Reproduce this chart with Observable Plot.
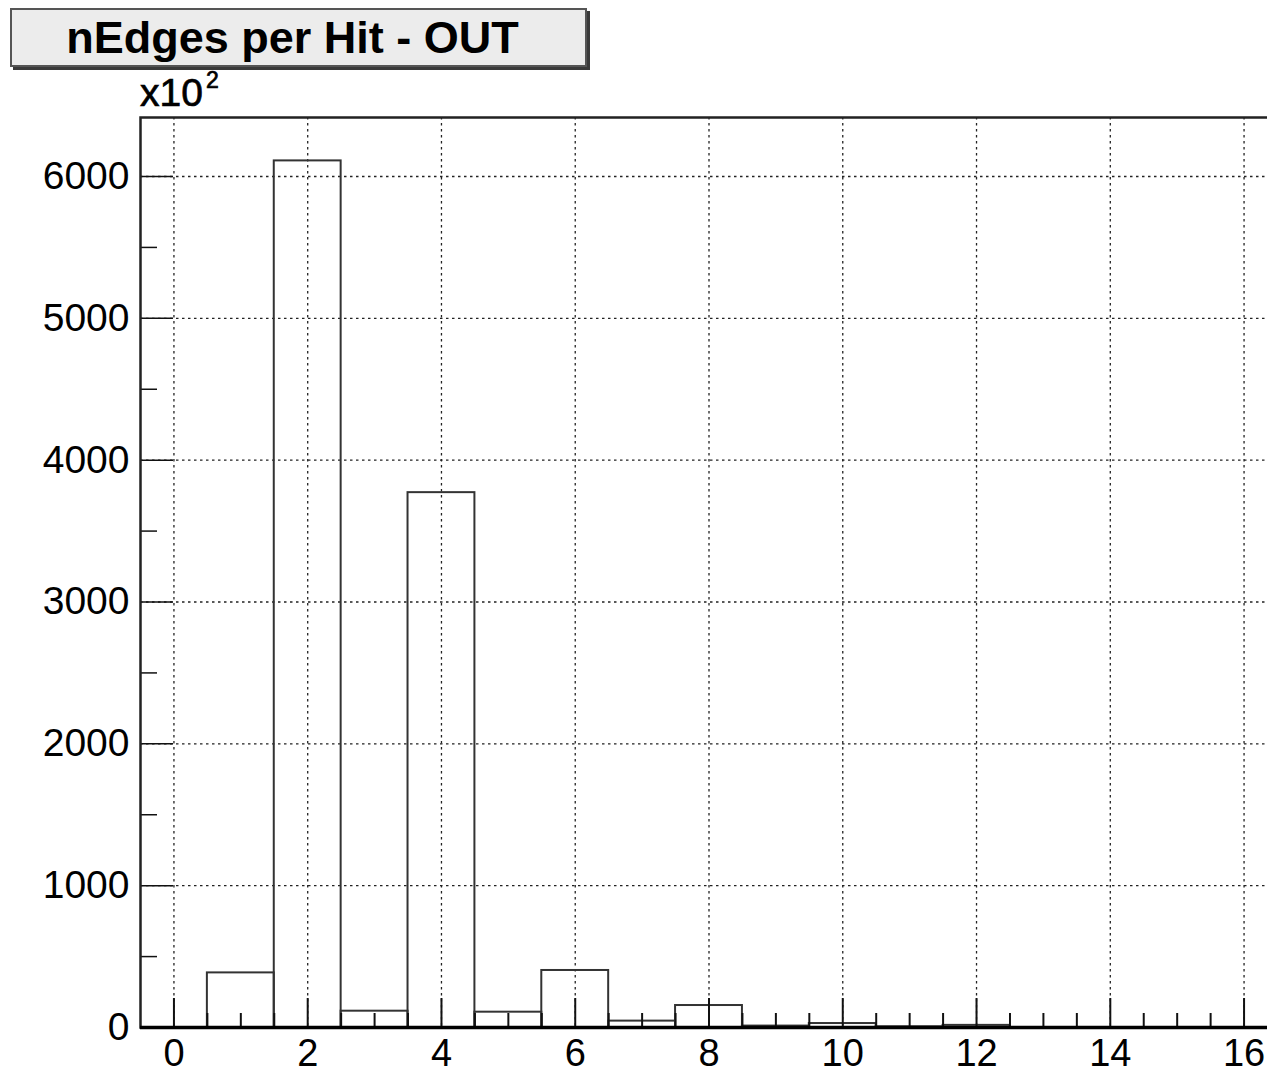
<!DOCTYPE html>
<html>
<head>
<meta charset="utf-8">
<script src="https://cdn.jsdelivr.net/npm/d3@7"></script>
<script src="https://cdn.jsdelivr.net/npm/@observablehq/plot@0.6"></script>
<style>
  html, body { margin: 0; padding: 0; background: white; overflow: hidden; }
  #wrap { position: relative; width: 1267px; height: 1073px; overflow: hidden; font-family: "Liberation Sans", Arial, Helvetica, sans-serif; }
  #title {
    position: absolute; left: 10px; top: 8px; width: 561px; height: 55px;
    padding-right: 12px;
    background: #ececec; border: 2px solid #555;
    box-shadow: 3px 3px 0 #3a3a3a;
    font-weight: bold; font-size: 45px; line-height: 55px; text-align: center; color: #000;
  }
  #exp { position: absolute; left: 140px; top: 73px; font-size: 39px; color: #000; line-height: 40px; -webkit-text-stroke: 0.7px #000; }
  #exp sup { font-size: 23px; vertical-align: 0; position: relative; top: -18px; margin-left: 3px; }
  #chart { position: absolute; left: 0; top: 0; }
</style>
</head>
<body>
<div id="wrap">
  <div id="chart"></div>
  <div id="title">nEdges per Hit - OUT</div>
  <div id="exp">x10<sup>2</sup></div>
</div>
<script>
// Histogram bins (centers) and counts (in units of 10^2)
const binCenters = [0, 1, 2, 3, 4, 5, 6, 7, 8, 9, 10, 11, 12, 13, 14, 15, 16];
const counts     = [0, 385, 6110, 115, 3771, 108, 402, 45, 155, 10, 28, 5, 15, 0, 0, 0, 0];

const xMajorTicks = [0, 2, 4, 6, 8, 10, 12, 14, 16];
const xMinorTicks = [0.5, 1, 1.5, 2.5, 3, 3.5, 4.5, 5, 5.5, 6.5, 7, 7.5, 8.5, 9, 9.5, 10.5, 11, 11.5, 12.5, 13, 13.5, 14.5, 15, 15.5];
const yMajorTicks = [0, 1000, 2000, 3000, 4000, 5000, 6000];
const yMinorTicks = [500, 1500, 2500, 3500, 4500, 5500];

const bins = binCenters.map((c, i) => ({x1: c - 0.5, x2: c + 0.5, y: counts[i]}));

const font = '"Liberation Sans", Arial, Helvetica, sans-serif';

const chart = Plot.plot({
  width: 1267,
  height: 1073,
  marginTop: 117,
  marginBottom: 46,
  marginLeft: 140,
  marginRight: -10,
  style: {fontFamily: font, background: "transparent", overflow: "visible"},
  x: {domain: [-0.5, 16.5]},
  y: {domain: [0, 6416]},
  marks: [
    // grid
    Plot.gridX(xMajorTicks, {stroke: "#222", strokeOpacity: 1, strokeWidth: 1.3, strokeDasharray: "2.5,3.5"}),
    Plot.gridY(yMajorTicks.filter(d => d > 0), {stroke: "#222", strokeOpacity: 1, strokeWidth: 1.3, strokeDasharray: "2.5,3.5"}),
    // histogram boxes
    Plot.rectY(bins, {x1: "x1", x2: "x2", y: "y", fill: "none", stroke: "#333", strokeWidth: 2}),
    // x ticks (inward)
    Plot.axisX(xMajorTicks, {anchor: "bottom", tickSize: 29, insetBottom: 29, text: null, label: null, stroke: "#111", strokeWidth: 2}),
    Plot.axisX(xMinorTicks, {anchor: "bottom", tickSize: 14, insetBottom: 14, text: null, label: null, stroke: "#111", strokeWidth: 2}),
    Plot.axisX(xMajorTicks, {anchor: "bottom", tickSize: 0, tickPadding: 12, label: null, fontSize: 38, fill: "#000", stroke: "#000", strokeWidth: 1.3, tickFormat: d => String(d)}),
    // y ticks (inward)
    Plot.axisY(yMajorTicks, {anchor: "left", tickSize: 33, insetLeft: 33, text: null, label: null, stroke: "#111", strokeWidth: 1.5}),
    Plot.axisY(yMinorTicks, {anchor: "left", tickSize: 17, insetLeft: 17, text: null, label: null, stroke: "#111", strokeWidth: 1.5}),
    Plot.axisY(yMajorTicks, {anchor: "left", tickSize: 0, tickPadding: 11, label: null, fontSize: 39, fill: "#000", stroke: "#000", strokeWidth: 1.3, tickFormat: d => String(d)}),
    // frame
    Plot.frame({stroke: "#222", strokeWidth: 2.5}),
    Plot.ruleY([0], {stroke: "#000", strokeWidth: 3.5})
  ]
});

document.getElementById("chart").appendChild(chart);
</script>
</body>
</html>
